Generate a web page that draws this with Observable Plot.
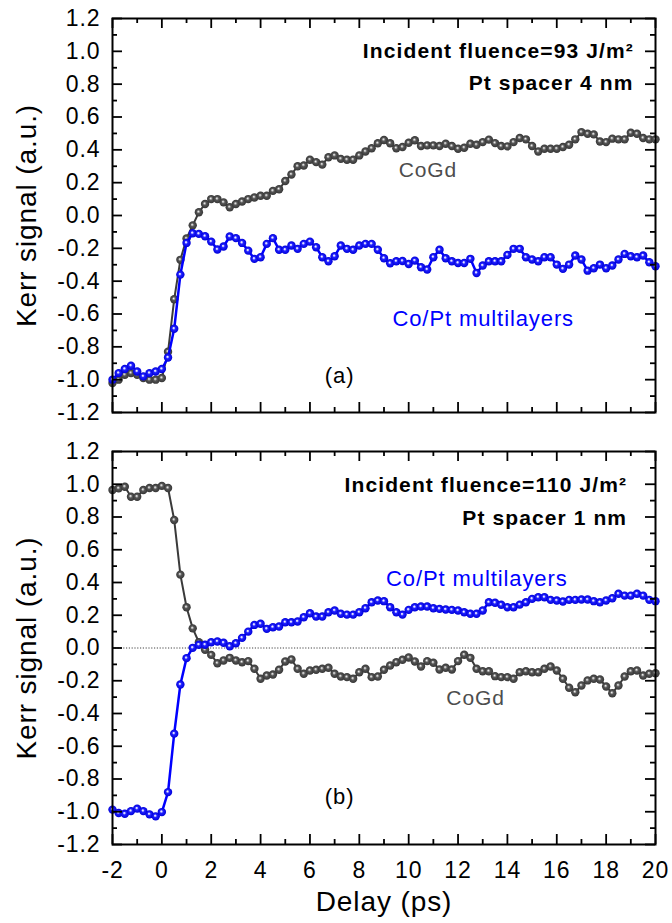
<!DOCTYPE html>
<html>
<head>
<meta charset="utf-8">
<script src="https://cdn.jsdelivr.net/npm/d3@7"></script>
<script src="https://cdn.jsdelivr.net/npm/@observablehq/plot@0.6"></script>
<style>
  html, body { margin: 0; padding: 0; background: #fff; }
  #wrap { position: relative; width: 672px; height: 923px; overflow: hidden; font-family: "Liberation Sans", Arial, sans-serif; }
  #wrap svg text { letter-spacing: 0.9px; }
  #wrap svg g[font-weight="bold"] text { letter-spacing: 1.1px; }
</style>
</head>
<body>
<svg width="0" height="0" style="position:absolute">
  <defs>
    <radialGradient id="gBlue" cx="0.5" cy="0.5" r="0.5" fx="0.42" fy="0.4">
      <stop offset="0" stop-color="#ffffff"/>
      <stop offset="0.16" stop-color="#d0d0ff"/>
      <stop offset="0.4" stop-color="#2020ff"/>
      <stop offset="1" stop-color="#0000d8"/>
    </radialGradient>
    <radialGradient id="gGrey" cx="0.5" cy="0.5" r="0.5" fx="0.42" fy="0.4">
      <stop offset="0" stop-color="#ffffff"/>
      <stop offset="0.16" stop-color="#c0c0c0"/>
      <stop offset="0.42" stop-color="#555555"/>
      <stop offset="1" stop-color="#363636"/>
    </radialGradient>
  </defs>
</svg>
<div id="wrap">
  <div id="top" style="position:absolute;left:0;top:0;"></div>
  <div id="bot" style="position:absolute;left:0;top:432px;"></div>
</div>
<script>
// ---------- data ----------
const delay = [
  -2, -1.75, -1.5, -1.25, -1, -0.75, -0.5, -0.25, 0, 0.25,
  0.5, 0.75, 1, 1.25, 1.5, 1.75, 2, 2.25, 2.5, 2.75,
  3, 3.25, 3.5, 3.75, 4, 4.25, 4.5, 4.75, 5, 5.25,
  5.5, 5.75, 6, 6.25, 6.5, 6.75, 7, 7.25, 7.5, 7.75,
  8, 8.25, 8.5, 8.75, 9, 9.25, 9.5, 9.75, 10, 10.25,
  10.5, 10.75, 11, 11.25, 11.5, 11.75, 12, 12.25, 12.5, 12.75,
  13, 13.25, 13.5, 13.75, 14, 14.25, 14.5, 14.75, 15, 15.25,
  15.5, 15.75, 16, 16.25, 16.5, 16.75, 17, 17.25, 17.5, 17.75,
  18, 18.25, 18.5, 18.75, 19, 19.25, 19.5, 19.75, 20
];

// panel (a): fluence 93 J/m2, Pt spacer 4 nm
const cogdA = [
  -1.02, -1.00, -0.97, -0.96, -0.97, -0.99, -1.00, -1.00, -0.99, -0.83,
  -0.51, -0.27, -0.14, -0.06, 0.02, 0.07, 0.10, 0.10, 0.08, 0.05,
  0.07, 0.085, 0.10, 0.11, 0.12, 0.12, 0.15, 0.16, 0.21, 0.25,
  0.30, 0.305, 0.34, 0.325, 0.31, 0.355, 0.366, 0.345, 0.34, 0.34,
  0.366, 0.39, 0.41, 0.44, 0.46, 0.44, 0.41, 0.417, 0.443, 0.458,
  0.423, 0.427, 0.427, 0.423, 0.437, 0.423, 0.407, 0.413, 0.437, 0.431,
  0.447, 0.462, 0.441, 0.423, 0.421, 0.447, 0.472, 0.464, 0.423, 0.39,
  0.407, 0.407, 0.407, 0.417, 0.431, 0.464, 0.508, 0.498, 0.494, 0.451,
  0.447, 0.468, 0.464, 0.464, 0.504, 0.498, 0.472, 0.464, 0.464
];
const coptA = [
  -1.00, -0.96, -0.935, -0.915, -0.95, -0.98, -0.96, -0.95, -0.935, -0.865,
  -0.69, -0.36, -0.167, -0.108, -0.112, -0.126, -0.159, -0.207, -0.189, -0.128,
  -0.138, -0.167, -0.214, -0.264, -0.254, -0.173, -0.138, -0.209, -0.209, -0.183,
  -0.203, -0.173, -0.159, -0.193, -0.254, -0.279, -0.248, -0.183, -0.203, -0.209,
  -0.183, -0.173, -0.173, -0.209, -0.26, -0.291, -0.279, -0.277, -0.295, -0.275,
  -0.315, -0.329, -0.254, -0.209, -0.26, -0.279, -0.289, -0.289, -0.264, -0.35,
  -0.305, -0.279, -0.279, -0.279, -0.24, -0.203, -0.203, -0.254, -0.268, -0.279,
  -0.254, -0.254, -0.299, -0.325, -0.299, -0.244, -0.268, -0.336, -0.321, -0.299,
  -0.321, -0.305, -0.268, -0.234, -0.248, -0.254, -0.244, -0.285, -0.309
];

// panel (b): fluence 110 J/m2, Pt spacer 1 nm
const cogdB = [
  0.965, 0.975, 0.985, 0.924, 0.924, 0.965, 0.977, 0.977, 0.99, 0.977,
  0.782, 0.448, 0.249, 0.12, 0.035, -0.011, -0.042, -0.093, -0.076, -0.06,
  -0.076, -0.087, -0.08, -0.127, -0.188, -0.168, -0.162, -0.133, -0.082, -0.07,
  -0.127, -0.157, -0.137, -0.133, -0.127, -0.121, -0.157, -0.174, -0.178, -0.188,
  -0.148, -0.127, -0.178, -0.174, -0.133, -0.107, -0.087, -0.072, -0.058, -0.082,
  -0.113, -0.08, -0.09, -0.131, -0.121, -0.131, -0.08, -0.041, -0.06, -0.127,
  -0.142, -0.142, -0.172, -0.178, -0.178, -0.188, -0.148, -0.142, -0.148, -0.148,
  -0.127, -0.113, -0.137, -0.188, -0.243, -0.27, -0.229, -0.198, -0.188, -0.192,
  -0.235, -0.276, -0.229, -0.174, -0.142, -0.137, -0.168, -0.157, -0.154
];
const coptB = [
  -0.987, -1.008, -1.012, -0.996, -0.981, -0.996, -1.016, -1.028, -1.002, -0.88,
  -0.523, -0.223, -0.062, 0.001, 0.02, 0.02, 0.035, 0.04, 0.032, 0.011,
  0.029, 0.062, 0.10, 0.141, 0.148, 0.117, 0.127, 0.131, 0.157, 0.157,
  0.162, 0.188, 0.212, 0.192, 0.192, 0.218, 0.229, 0.209, 0.204, 0.204,
  0.218, 0.243, 0.279, 0.29, 0.286, 0.249, 0.218, 0.204, 0.233, 0.249,
  0.253, 0.253, 0.243, 0.239, 0.235, 0.233, 0.229, 0.218, 0.209, 0.209,
  0.229, 0.279, 0.276, 0.264, 0.249, 0.249, 0.265, 0.279, 0.30, 0.31,
  0.31, 0.294, 0.29, 0.284, 0.294, 0.294, 0.296, 0.296, 0.286, 0.279,
  0.29, 0.304, 0.331, 0.32, 0.32, 0.331, 0.32, 0.294, 0.286
];

// ticks
const xMajorTicks = [-2, 0, 2, 4, 6, 8, 10, 12, 14, 16, 18, 20];
const xMinorTicks = [-1, 1, 3, 5, 7, 9, 11, 13, 15, 17, 19];
const yMajorTicks = [-1.2, -1.0, -0.8, -0.6, -0.4, -0.2, 0.0, 0.2, 0.4, 0.6, 0.8, 1.0, 1.2];
const yMinorTicks = [-1.1, -0.9, -0.7, -0.5, -0.3, -0.1, 0.1, 0.3, 0.5, 0.7, 0.9, 1.1];

const labelCoGd = "CoGd";
const labelCoPt = "Co/Pt multilayers";
const yTitle = "Kerr signal (a.u.)";
const xTitle = "Delay (ps)";

// ---------- drawing ----------
const FONT = "Liberation Sans, Arial, sans-serif";
const W = 672, ML = 112, MR = 17;

function series(vals) {
  const n = Math.min(delay.length, vals.length);
  return d3.range(n).map(i => ({t: delay[i], v: vals[i]}));
}

function panel({cogd, copt, height, mt, mb, showX, texts, zeroLine}) {
  const pw = W - ML - MR, ph = height - mt - mb;
  const g = series(cogd), b = series(copt);
  const marks = [];
  if (zeroLine) marks.push(Plot.ruleY([0], {stroke: "#444", strokeWidth: 1, strokeDasharray: "1.2 1.6"}));
  marks.push(
    Plot.line(g, {x: "t", y: "v", stroke: "#3a3a3a", strokeWidth: 2}),
    Plot.dot(g, {x: "t", y: "v", r: 4.2, fill: "url(#gGrey)", stroke: "none"}),
    Plot.line(b, {x: "t", y: "v", stroke: "#0000ff", strokeWidth: 2.5}),
    Plot.dot(b, {x: "t", y: "v", r: 4.2, fill: "url(#gBlue)", stroke: "none"}),
    Plot.frame({stroke: "#000", strokeWidth: 2}),
    // inward ticks on all four sides
    Plot.ruleX(xMajorTicks, {stroke: "#000", strokeWidth: 1.8, insetTop: ph - 10}),
    Plot.ruleX(xMajorTicks, {stroke: "#000", strokeWidth: 1.8, insetBottom: ph - 10}),
    Plot.ruleX(xMinorTicks, {stroke: "#000", strokeWidth: 1.8, insetTop: ph - 5}),
    Plot.ruleX(xMinorTicks, {stroke: "#000", strokeWidth: 1.8, insetBottom: ph - 5}),
    Plot.ruleY(yMajorTicks, {stroke: "#000", strokeWidth: 1.8, insetRight: pw - 10}),
    Plot.ruleY(yMajorTicks, {stroke: "#000", strokeWidth: 1.8, insetLeft: pw - 10}),
    Plot.ruleY(yMinorTicks, {stroke: "#000", strokeWidth: 1.8, insetRight: pw - 5}),
    Plot.ruleY(yMinorTicks, {stroke: "#000", strokeWidth: 1.8, insetLeft: pw - 5}),
    Plot.axisY({ticks: yMajorTicks, tickSize: 0, tickPadding: 12, tickFormat: d => d.toFixed(1),
                fontSize: 23, label: null, fill: "#000"}),
    Plot.text([yTitle], {frameAnchor: "left", dx: -77, rotate: -90, textAnchor: "middle",
                         lineAnchor: "bottom", fontSize: 28, fill: "#000"})
  );
  if (showX) {
    marks.push(
      Plot.axisX({ticks: xMajorTicks, tickSize: 0, tickPadding: 17, tickFormat: d => String(d),
                  fontSize: 23, label: null, fill: "#000"}),
      Plot.text([xTitle], {frameAnchor: "bottom", dy: 66, lineAnchor: "bottom", fontSize: 28, fill: "#000"})
    );
  }
  for (const tx of texts) {
    marks.push(Plot.text([tx.s], {x: [tx.x], y: [tx.y], textAnchor: tx.anchor || "middle",
      lineAnchor: "bottom", fontSize: tx.size, fontWeight: tx.bold ? "bold" : "normal", fill: tx.color}));
  }
  return Plot.plot({
    width: W, height, marginLeft: ML, marginRight: MR, marginTop: mt, marginBottom: mb,
    style: {fontFamily: FONT, background: "transparent", overflow: "visible", color: "#000"},
    x: {domain: [-2, 20], label: null, axis: showX ? undefined : null},
    y: {domain: [-1.2, 1.2], label: null},
    marks
  });
}

document.getElementById("top").append(panel({
  cogd: cogdA, copt: coptA, height: 432, mt: 18, mb: 20, showX: false, zeroLine: false,
  texts: [
    {s: "Incident fluence=93 J/m²", x: 19.12, y: 0.962, anchor: "end", size: 21, bold: true, color: "#000"},
    {s: "Pt spacer 4 nm", x: 19.11, y: 0.763, anchor: "end", size: 21, bold: true, color: "#000"},
    {s: labelCoGd, x: 10.78, y: 0.234, size: 21, color: "#4d4d4d"},
    {s: labelCoPt, x: 13.02, y: -0.671, size: 22, color: "#0000ff"},
    {s: "(a)", x: 7.2, y: -1.02, size: 22, color: "#000"}
  ]
}));

document.getElementById("bot").append(panel({
  cogd: cogdB, copt: coptB, height: 491, mt: 19, mb: 79, showX: true, zeroLine: true,
  texts: [
    {s: "Incident fluence=110 J/m²", x: 18.85, y: 0.951, anchor: "end", size: 21, bold: true, color: "#000"},
    {s: "Pt spacer 1 nm", x: 18.85, y: 0.753, anchor: "end", size: 21, bold: true, color: "#000"},
    {s: labelCoPt, x: 12.76, y: 0.381, size: 22, color: "#0000ff"},
    {s: labelCoGd, x: 12.71, y: -0.351, size: 21, color: "#4d4d4d"},
    {s: "(b)", x: 7.2, y: -0.953, size: 22, color: "#000"}
  ]
}));
</script>
</body>
</html>
